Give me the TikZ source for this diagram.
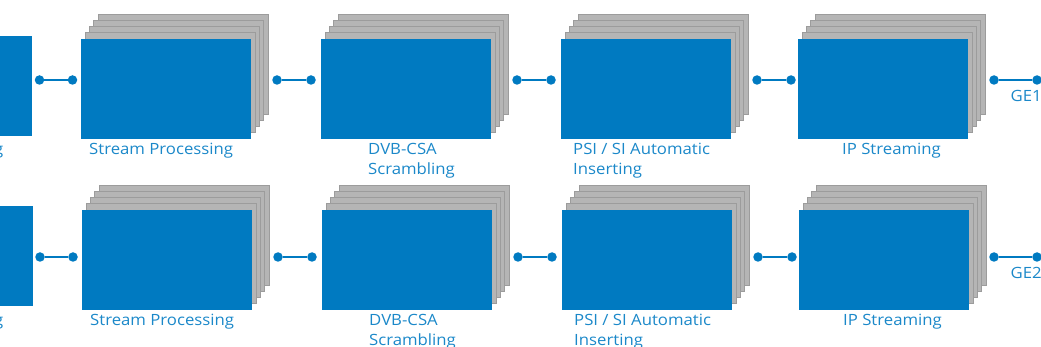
\documentclass[tikz,border=0pt]{standalone}
\usepackage{fontspec}
\setmainfont{Open Sans}[FakeStretch=1.08]
\definecolor{boxblue}{HTML}{007AC1}
\definecolor{txtblue}{HTML}{1B88C9}
\definecolor{sheetfill}{HTML}{B5B5B5}
\definecolor{sheetline}{HTML}{9C9C9C}

% one processing module: four grey sheets behind a blue front panel
\newcommand\modstack[3]{%
  \foreach \k in {4,3,2,1}
    \draw[sheet] (#2+4.3*\k,#3-6.2*\k) rectangle ++(170,100);
  \node[module] (#1) at (#2,#3) {};
}

\begin{document}
\begin{tikzpicture}[x=1pt,y=-1pt,
  module/.style={fill=boxblue, draw=none, inner sep=0pt, outer sep=0pt,
                 minimum width=170pt, minimum height=100pt, anchor=north west},
  sheet/.style={fill=sheetfill, draw=sheetline, line width=1.1pt},
  dot/.style={circle, fill=boxblue, inner sep=0pt, minimum size=9.5pt},
  link/.style={draw=boxblue, line width=2.6pt},
  lbl/.style={text=txtblue, inner sep=0pt, anchor=base west, align=left,
              font=\fontsize{15.5}{20}\selectfont}]
\useasboundingbox (0,0) rectangle (1041,347);
\clip (0,0) rectangle (1041,347);

% ---------- upper chain ----------
\node[module, minimum width=40pt] (in1) at (-8,36) {};
\node[lbl, anchor=base east] (in1t) at (3.5,155) {g};
\modstack{sp1}{81}{39}
\modstack{cs1}{321}{39}
\modstack{ps1}{561}{39}
\modstack{ip1}{798}{39}

% two-line labels are placed by the baseline of their last line
\node[lbl] (sp1t) at (89,155) {Stream Processing};
\node[lbl] (cs1t) at (368,175) {DVB-CSA\\Scrambling};
\node[lbl] (ps1t) at (573,175) {PSI / SI Automatic\\Inserting};
\node[lbl] (ip1t) at (842,155) {IP Streaming};
\node[lbl] (ge1t) at (1010.5,102) {GE1};

\node[dot] (a1) at (39.5,80) {};  \node[dot] (a2) at (72.5,80) {};
\node[dot] (b1) at (277,80) {};   \node[dot] (b2) at (311,80) {};
\node[dot] (c1) at (517,80) {};   \node[dot] (c2) at (551,80) {};
\node[dot] (d1) at (757,80) {};   \node[dot] (d2) at (791,80) {};
\node[dot] (e1) at (994,80) {};   \node[dot] (e2) at (1037,80) {};
\draw[link] (a1) -- (a2);
\draw[link] (b1) -- (b2);
\draw[link] (c1) -- (c2);
\draw[link] (d1) -- (d2);
\draw[link] (e1) -- (e2);

% ---------- lower chain ----------
\node[module, minimum width=41pt] (in2) at (-8,206) {};
\node[lbl, anchor=base east] (in2t) at (3.5,325) {g};
\modstack{sp2}{82}{210}
\modstack{cs2}{322}{210}
\modstack{ps2}{562}{210}
\modstack{ip2}{799}{210}

\node[lbl] (sp2t) at (90,325) {Stream Processing};
\node[lbl] (cs2t) at (369,345) {DVB-CSA\\Scrambling};
\node[lbl] (ps2t) at (574,345) {PSI / SI Automatic\\Inserting};
\node[lbl] (ip2t) at (843,325) {IP Streaming};
\node[lbl] (ge2t) at (1010.5,279) {GE2};

\node[dot] (f1) at (40,257) {};   \node[dot] (f2) at (73,257) {};
\node[dot] (g1) at (278,257) {};  \node[dot] (g2) at (312,257) {};
\node[dot] (h1) at (518,257) {};  \node[dot] (h2) at (552,257) {};
\node[dot] (i1) at (758,257) {};  \node[dot] (i2) at (792,257) {};
\node[dot] (j1) at (994,257) {};  \node[dot] (j2) at (1037,257) {};
\draw[link] (f1) -- (f2);
\draw[link] (g1) -- (g2);
\draw[link] (h1) -- (h2);
\draw[link] (i1) -- (i2);
\draw[link] (j1) -- (j2);
\end{tikzpicture}
\end{document}
